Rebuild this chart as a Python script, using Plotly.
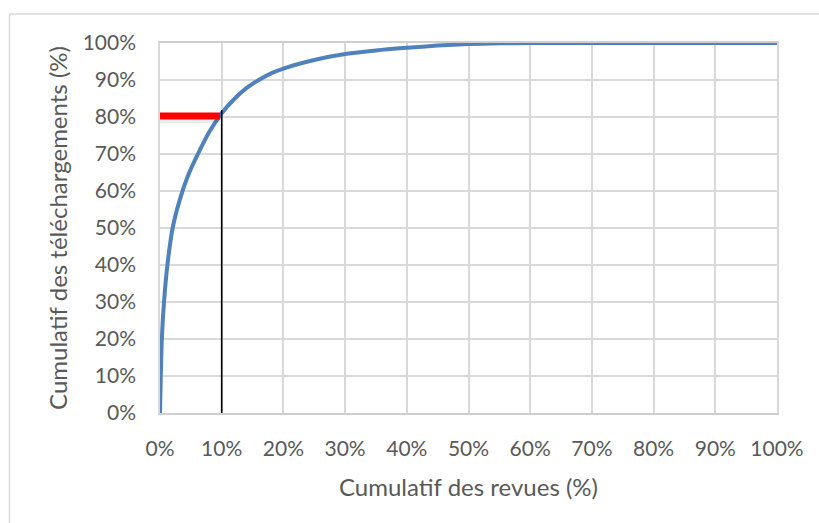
import plotly.graph_objects as go

# Cumulative share of journals (%) vs cumulative share of downloads (%)
revues_pct = [0, 0.13, 0.3, 0.65, 1.2, 2.05, 3.2, 4.5, 6, 8, 10, 12, 14, 16, 18, 20,
              25, 30, 35, 40, 45, 50, 55, 60, 70, 80, 90, 100]
telech_pct = [0, 10, 20, 30, 40, 50, 57.6, 64, 69.5, 76, 81, 84.8, 87.8, 90, 91.8, 93.1,
              95.4, 97, 98, 98.7, 99.3, 99.7, 99.9, 100, 100, 100, 100, 100]

# Reference markers: 80% of downloads / 10% of journals
seuil_x = [-0.3, 9.7]
seuil_y = [80.3, 80.3]
vert_x = [10, 10]
vert_y = [0, 81.8]

tick_vals = [0, 10, 20, 30, 40, 50, 60, 70, 80, 90, 100]
tick_text = ["0%", "10%", "20%", "30%", "40%", "50%", "60%", "70%", "80%", "90%", "100%"]

FONT = "Lato, 'Open Sans', sans-serif"
GRID = "#d9d9d9"
TXT = "#595959"

fig = go.Figure()

fig.add_trace(go.Scatter(
    x=revues_pct, y=telech_pct, mode="lines",
    line=dict(color="#4f81bd", width=4, shape="spline", smoothing=0.7),
    hoverinfo="skip", showlegend=False, cliponaxis=False))

# soft shadow of red bar
fig.add_trace(go.Scatter(
    x=seuil_x, y=[v - 0.6 for v in seuil_y], mode="lines",
    line=dict(color="rgba(0,0,0,0.07)", width=10),
    hoverinfo="skip", showlegend=False, cliponaxis=False))
fig.add_trace(go.Scatter(
    x=seuil_x, y=seuil_y, mode="lines",
    line=dict(color="#ff0000", width=7),
    hoverinfo="skip", showlegend=False, cliponaxis=False))
fig.add_trace(go.Scatter(
    x=vert_x, y=vert_y, mode="lines",
    line=dict(color="#000000", width=1.6),
    hoverinfo="skip", showlegend=False, cliponaxis=False))

L, R, T, B = 160, 777, 43, 413
W, H = 819, 523
def px_x(p):
    return (p - L) / (R - L)
def px_y(p):
    return (B - p) / (B - T)
# chart-area border (only top and left edges are visible in the window)
fig.add_shape(type="line", xref="paper", yref="paper",
              x0=px_x(9.5), x1=px_x(W + 5), y0=px_y(14), y1=px_y(14),
              line=dict(color="#d9d9d9", width=1.5), layer="below")
fig.add_shape(type="line", xref="paper", yref="paper",
              x0=px_x(9.5), x1=px_x(9.5), y0=px_y(14), y1=px_y(H + 5),
              line=dict(color="#d9d9d9", width=1.5), layer="below")

fig.update_layout(
    width=W, height=H,
    margin=dict(l=L, r=W - R, t=T, b=H - B),
    paper_bgcolor="white", plot_bgcolor="white",
    font=dict(family=FONT, color=TXT, size=21),
    xaxis=dict(range=[0, 100], tickvals=tick_vals, ticktext=tick_text,
               automargin=False,
               showgrid=True, gridcolor=GRID, gridwidth=1.5,
               showline=True, linecolor="#cfcfcf", linewidth=1.5, mirror=True,
               zeroline=False, ticks="", ticklabelstandoff=16,
               tickfont=dict(size=21, color=TXT),
               title=dict(text="Cumulatif des revues (%)", standoff=20,
                          font=dict(size=24, color=TXT))),
    yaxis=dict(range=[0, 100], tickvals=tick_vals, ticktext=tick_text,
               automargin=False,
               showgrid=True, gridcolor=GRID, gridwidth=1.5,
               showline=True, linecolor=GRID, linewidth=1.5, mirror=True,
               zeroline=False, ticks="", ticklabelstandoff=18,
               tickfont=dict(size=21, color=TXT),
               title=dict(text="Cumulatif des téléchargements (%)", standoff=8,
                          font=dict(size=24, color=TXT))),
)

fig.write_html(
    "out.html",
    config={"displayModeBar": False},
    post_script="document.body.style.margin='0';document.body.style.overflow='hidden';",
)
